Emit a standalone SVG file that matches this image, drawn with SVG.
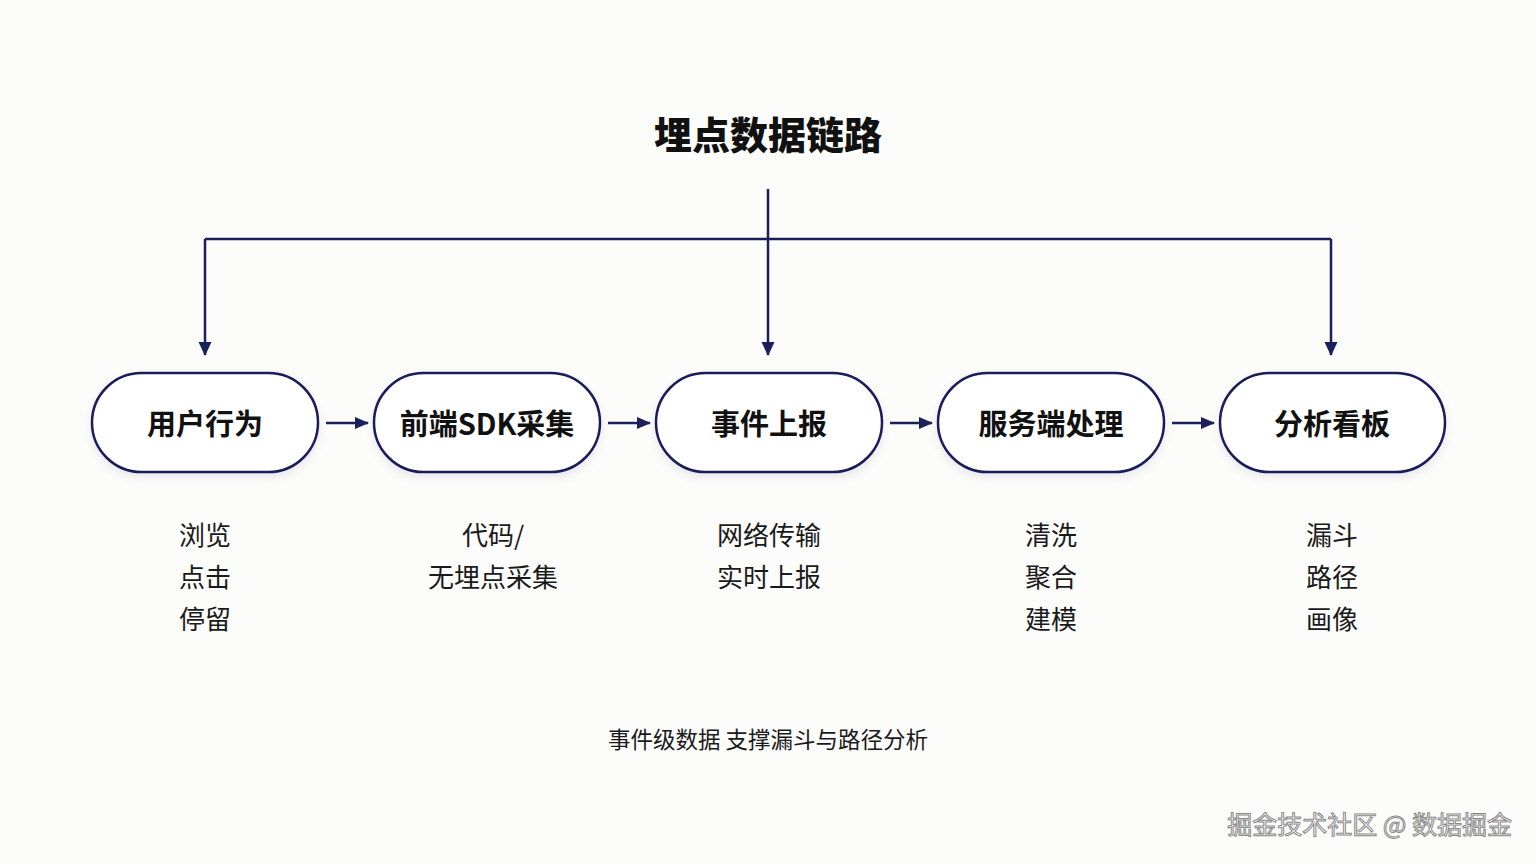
<svg xmlns="http://www.w3.org/2000/svg" width="1536" height="864" viewBox="0 0 1536 864">
<defs>
<marker id="ah" markerWidth="14" markerHeight="14" refX="13" refY="7" orient="auto" markerUnits="userSpaceOnUse" viewBox="0 0 14 14">
<path d="M0,1 L14,7 L0,13 Z" fill="#1b1f5c"/>
</marker>
<marker id="ahv" markerWidth="14" markerHeight="14" refX="13" refY="7" orient="auto" markerUnits="userSpaceOnUse" viewBox="0 0 14 14">
<path d="M0,0.5 L14,7 L0,13.5 Z" fill="#1b1f5c"/>
</marker>
<filter id="sh" x="-20%" y="-20%" width="140%" height="160%">
<feDropShadow dx="0" dy="4" stdDeviation="5" flood-color="#1b1f5c" flood-opacity="0.08"/>
</filter>
</defs>
<style>
.node{fill:#ffffff;stroke:#1b1f5c;stroke-width:2.5;}
.nt{font-family:"Noto Sans CJK SC","Noto Sans",sans-serif;font-weight:700;font-size:29px;fill:#111;text-anchor:middle;}
.title{font-family:"Noto Sans CJK SC","Noto Sans",sans-serif;font-weight:900;font-size:38px;fill:#111;text-anchor:middle;}
.sub{font-family:"Noto Sans CJK SC","Noto Sans",sans-serif;font-weight:400;font-size:26px;fill:#1a1a1a;text-anchor:middle;}
.cap{font-family:"Noto Sans CJK SC","Noto Sans",sans-serif;font-weight:400;font-size:22.5px;fill:#1a1a1a;text-anchor:middle;}
.wm{font-family:"Noto Sans CJK SC","Noto Sans",sans-serif;font-weight:400;font-size:25px;fill:#ffffff;stroke:#8a8a8a;stroke-width:1;text-anchor:end;}
.c{fill:none;stroke:#1b1f5c;stroke-width:2.5;}
</style>
<rect width="1536" height="864" fill="#fcfcfa"/>
<text class="title" x="768" y="149">埋点数据链路</text>
<g id="connectors">
<path class="c" d="M205,239 L1331,239"/>
<path class="c" d="M768,189 L768,355" marker-end="url(#ahv)"/>
<path class="c" d="M205,239 L205,355" marker-end="url(#ahv)"/>
<path class="c" d="M1331,239 L1331,355" marker-end="url(#ahv)"/>
<path class="c" d="M326,423 L368,423" marker-end="url(#ah)"/>
<path class="c" d="M608,423 L650,423" marker-end="url(#ah)"/>
<path class="c" d="M890,423 L932,423" marker-end="url(#ah)"/>
<path class="c" d="M1172,423 L1214,423" marker-end="url(#ah)"/>
</g>
<g id="n1">
<rect class="node" x="92" y="373" width="226" height="99" rx="49.5" filter="url(#sh)"/>
<text class="nt" x="205" y="435">用户行为</text>
<text class="sub" x="205" y="545">浏览</text>
<text class="sub" x="205" y="587">点击</text>
<text class="sub" x="205" y="629">停留</text>
</g>
<g id="n2">
<rect class="node" x="374" y="373" width="226" height="99" rx="49.5" filter="url(#sh)"/>
<text class="nt" x="487" y="435">前端SDK采集</text>
<text class="sub" x="493" y="545">代码/</text>
<text class="sub" x="493" y="587">无埋点采集</text>
</g>
<g id="n3">
<rect class="node" x="656" y="373" width="226" height="99" rx="49.5" filter="url(#sh)"/>
<text class="nt" x="769" y="435">事件上报</text>
<text class="sub" x="769" y="545">网络传输</text>
<text class="sub" x="769" y="587">实时上报</text>
</g>
<g id="n4">
<rect class="node" x="938" y="373" width="226" height="99" rx="49.5" filter="url(#sh)"/>
<text class="nt" x="1051" y="435">服务端处理</text>
<text class="sub" x="1051" y="545">清洗</text>
<text class="sub" x="1051" y="587">聚合</text>
<text class="sub" x="1051" y="629">建模</text>
</g>
<g id="n5">
<rect class="node" x="1220" y="373" width="225" height="99" rx="49.5" filter="url(#sh)"/>
<text class="nt" x="1332" y="435">分析看板</text>
<text class="sub" x="1332" y="545">漏斗</text>
<text class="sub" x="1332" y="587">路径</text>
<text class="sub" x="1332" y="629">画像</text>
</g>
<text class="cap" x="768" y="748">事件级数据 支撑漏斗与路径分析</text>
<text class="wm" x="1512" y="834">掘金技术社区 @ 数据掘金</text>
</svg>
